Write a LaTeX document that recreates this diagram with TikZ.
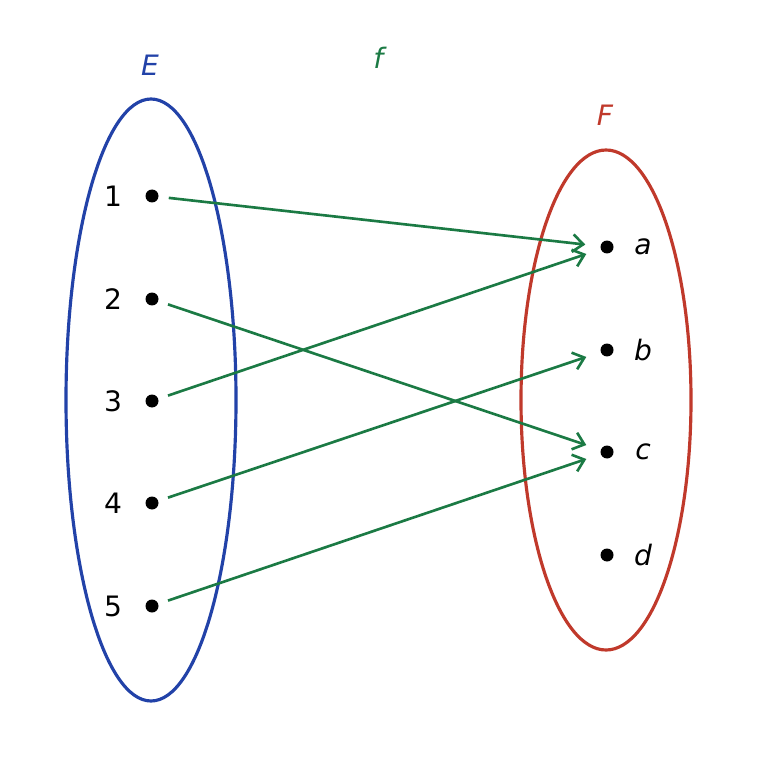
\documentclass[tikz,border=0pt]{standalone}
\usepackage{fontspec}
\setmainfont{DejaVu Sans}
\usetikzlibrary{arrows.meta}
\definecolor{SetBlue}{HTML}{2242A8}
\definecolor{MapGreen}{HTML}{1B7A44}
\definecolor{SetRed}{HTML}{C0392B}
\tikzset{
  elt/.style={circle,fill=black,inner sep=0pt,minimum size=0.26cm},
  lbl/.style={font=\fontsize{16}{16}\selectfont},
  map/.style={draw=MapGreen,line width=1.5pt,-{Straight Barb[length=6pt,width=10pt]},shorten <=0.2cm,shorten >=0.3cm}
}
\begin{document}
\begin{tikzpicture}[x=0.02cm,y=-0.02cm]
    \useasboundingbox (0,0) rectangle (758,780);
    \draw[SetBlue,line width=1.8pt] (151,400) ellipse [x radius=85,y radius=301];
    \draw[SetRed,line width=1.8pt] (606,400) ellipse [x radius=85,y radius=250];
    \node[lbl,text=SetBlue] (E) at (150,65) {\textit{E}};
    \node[lbl,text=MapGreen] (f) at (380,58) {\textit{f}};
    \node[lbl,text=SetRed] (F) at (605,115) {\textit{F}};

    \foreach \n/\y in {1/196,2/299,3/401,4/503,5/606} {
      \node[elt] (l\n) at (152,\y) {};
      \node[lbl] at (113,\y) {\n};
    }
    \foreach \n/\y in {a/247,b/350,c/452,d/555} {
      \node[elt] (r\n) at (607,\y) {};
      \node[lbl] at (643,\y) {\textit{\n}};
    }

    \draw[map] (l1) -- (ra);
    \draw[map] (l2) -- (rc);
    \draw[map] (l3) -- (ra);
    \draw[map] (l4) -- (rb);
    \draw[map] (l5) -- (rc);
\end{tikzpicture}
\end{document}
